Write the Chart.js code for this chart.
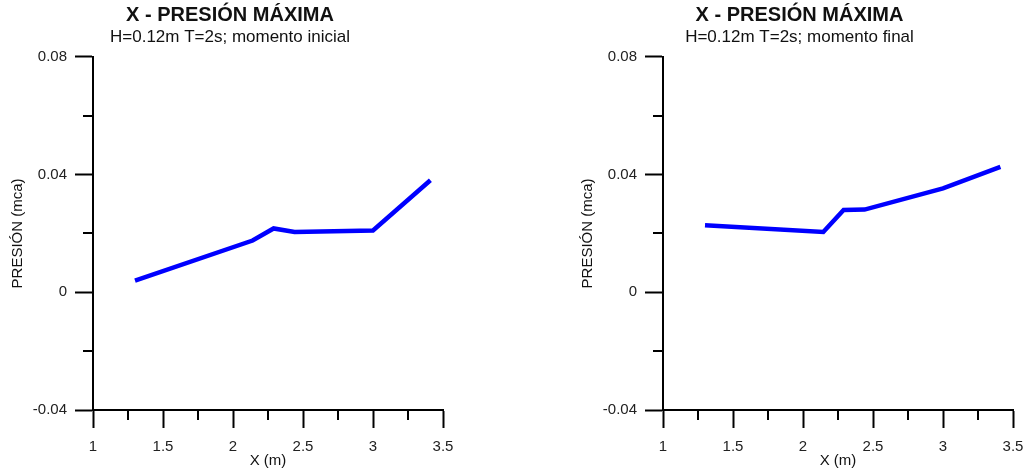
<!DOCTYPE html>
<html lang="es">
  <head>
    <meta charset="UTF-8" />
    <title>X - Presión máxima</title>
    <script src="https://cdn.jsdelivr.net/npm/chart.js"></script>
    <style>
      body {
        margin: 0;
        background-color: #fff;
        font-family: "Liberation Sans", Arial, sans-serif;
      }
      .panel {
        position: absolute;
        top: 0;
        height: 474px;
      }
      #left { left: 0; width: 460px; }
      #right { left: 570px; width: 459px; }
    </style>
  </head>
  <body>
    <div class="panel" id="left"><canvas id="chartInicial" width="460" height="474"></canvas></div>
    <div class="panel" id="right"><canvas id="chartFinal" width="459" height="474"></canvas></div>
    <script>
      // datos
      const xInicial = [1.3, 2.14, 2.29, 2.44, 3.0, 3.41];
      const yInicial = [0.004, 0.0176, 0.0217, 0.0205, 0.021, 0.0381];
      const xFinal = [1.3, 2.145, 2.29, 2.44, 3.0, 3.41];
      const yFinal = [0.0228, 0.0205, 0.028, 0.0281, 0.0353, 0.0426];

      const xLabels = ["1", "1.5", "2", "2.5", "3", "3.5"];
      const yLabels = ["-0.04", "0", "0.04", "0.08"];

      const FONT = "'Liberation Sans', Arial, sans-serif";

      function isMajor(v, step) {
        const r = v / step;
        return Math.abs(r - Math.round(r)) < 1e-6;
      }

      // short minor ticks, drawn from the scales' own tick positions
      const minorTicks = {
        id: "minorTicks",
        afterDraw(chart) {
          const ctx = chart.ctx;
          ctx.save();
          ctx.strokeStyle = "#000";
          ctx.lineWidth = 2;
          const xs = chart.scales.x;
          xs.ticks.forEach((t) => {
            if (isMajor(t.value, 0.5)) return;
            const px = Math.round(xs.getPixelForValue(t.value));
            ctx.beginPath();
            ctx.moveTo(px, xs.top);
            ctx.lineTo(px, xs.top + 10);
            ctx.stroke();
          });
          const ys = chart.scales.y;
          ys.ticks.forEach((t) => {
            if (isMajor(t.value, 0.04)) return;
            const py = Math.round(ys.getPixelForValue(t.value));
            ctx.beginPath();
            ctx.moveTo(ys.right - 10, py);
            ctx.lineTo(ys.right, py);
            ctx.stroke();
          });
          ctx.restore();
        },
      };

      function makeChart(id, xs, ys, subtitle, padRight) {
        const ctx = document.getElementById(id).getContext("2d");
        return new Chart(ctx, {
          type: "line",
          data: {
            datasets: [
              {
                data: xs.map((x, i) => ({ x: x, y: ys[i] })),
                borderColor: "#0000ff",
                borderWidth: 4.5,
                pointRadius: 0,
                tension: 0,
                fill: false,
              },
            ],
          },
          options: {
            responsive: false,
            animation: false,
            devicePixelRatio: 1,
            layout: { padding: 0 },
            plugins: {
              legend: { display: false },
              tooltip: { enabled: false },
              title: {
                display: true,
                text: "X - PRESIÓN MÁXIMA",
                color: "#111",
                font: { family: FONT, size: 20, weight: "bold" },
                padding: { top: 3.5, bottom: 0 },
              },
              subtitle: {
                display: true,
                text: subtitle,
                color: "#111",
                font: { family: FONT, size: 17 },
                padding: { top: 0, bottom: 9 },
              },
            },
            scales: {
              x: {
                type: "linear",
                min: 1,
                max: 3.5,
                afterFit: (s) => {
                  s.height = 64;
                  s.paddingRight = padRight;
                  s.paddingLeft = 0;
                },
                border: { display: true, color: "#000", width: 2 },
                grid: {
                  drawOnChartArea: false,
                  tickLength: 18,
                  tickWidth: 2,
                  tickColor: (c) => (c.tick && isMajor(c.tick.value, 0.5) ? "#000" : "rgba(0,0,0,0)"),
                },
                ticks: {
                  stepSize: 0.25,
                  autoSkip: false,
                  maxRotation: 0,
                  padding: 10,
                  color: "#222",
                  font: { family: FONT, size: 15 },
                  callback: (v) => {
                    if (!isMajor(v, 0.5)) return "";
                    return xLabels[Math.round((v - 1) / 0.5)];
                  },
                },
                title: {
                  display: true,
                  text: "X (m)",
                  color: "#111",
                  font: { family: FONT, size: 15 },
                  padding: { top: 0, bottom: 4 },
                },
              },
              y: {
                min: -0.04,
                max: 0.08,
                afterFit: (s) => { s.width = 93; },
                border: { display: true, color: "#000", width: 2 },
                grid: {
                  drawOnChartArea: false,
                  tickLength: 18,
                  tickWidth: 2,
                  tickColor: (c) => (c.tick && isMajor(c.tick.value, 0.04) ? "#000" : "rgba(0,0,0,0)"),
                },
                ticks: {
                  stepSize: 0.02,
                  autoSkip: false,
                  padding: 8,
                  color: "#222",
                  font: { family: FONT, size: 15 },
                  callback: (v) => {
                    if (!isMajor(v, 0.04)) return "";
                    return yLabels[Math.round((v + 0.04) / 0.04)];
                  },
                },
                title: {
                  display: true,
                  text: "PRESIÓN (mca)",
                  color: "#111",
                  font: { family: FONT, size: 15 },
                  padding: { top: 9, bottom: 0 },
                },
              },
            },
          },
          plugins: [minorTicks],
        });
      }

      makeChart("chartInicial", xInicial, yInicial, "H=0.12m T=2s; momento inicial", 17);
      makeChart("chartFinal", xFinal, yFinal, "H=0.12m T=2s; momento final", 16);
    </script>
  </body>
</html>
